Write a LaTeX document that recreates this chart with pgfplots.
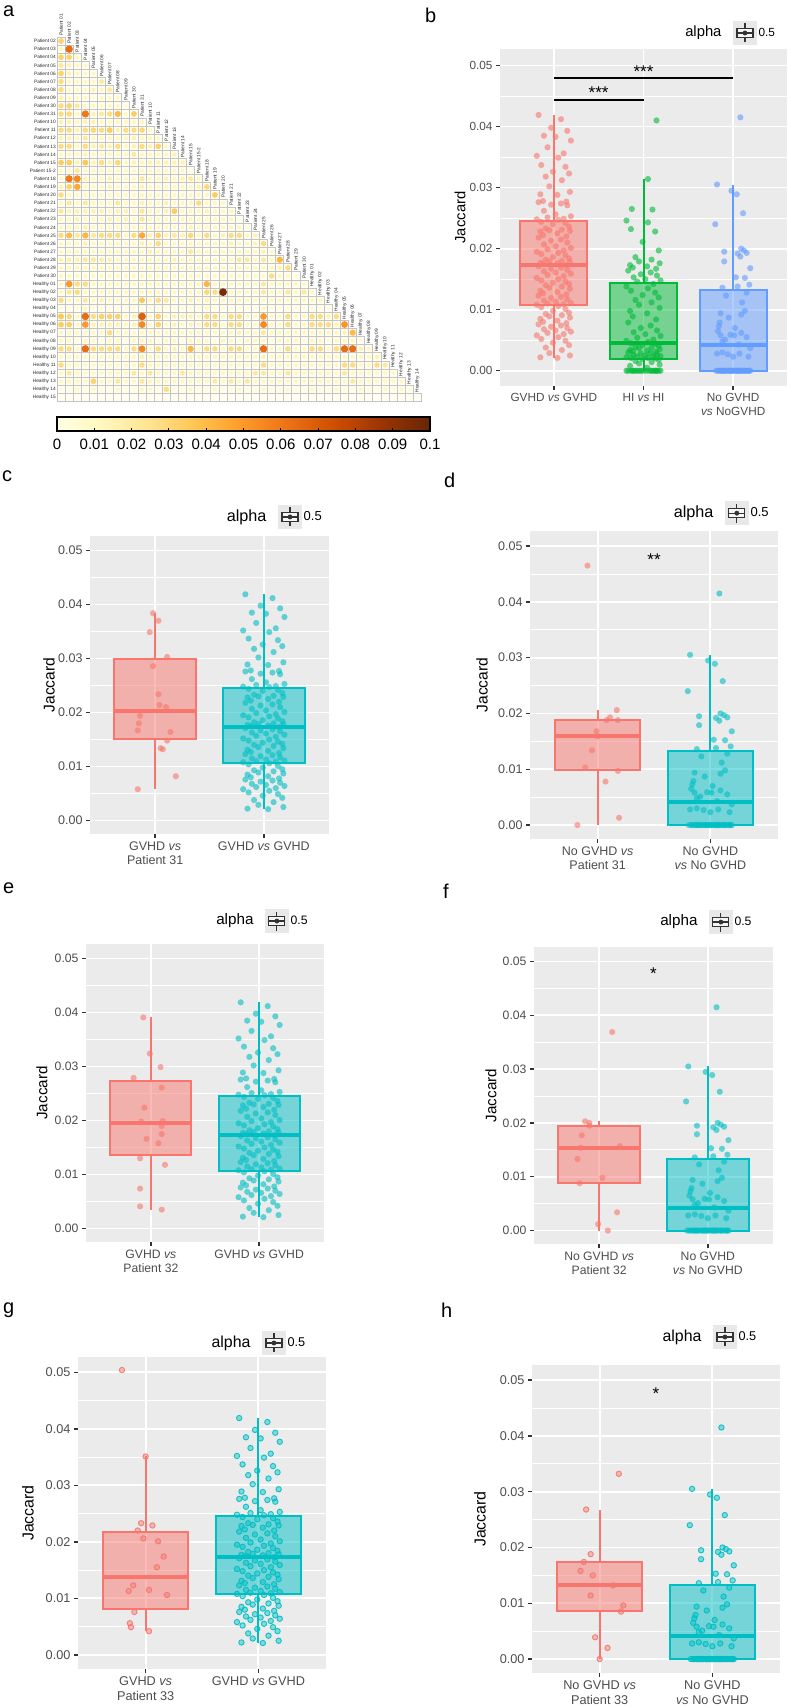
\documentclass[border=0pt]{standalone}
\usepackage{fontspec}
\setmainfont{Liberation Sans}
\usepackage{pgfplots}
\pgfplotsset{compat=1.18}
\usepackage{pgfplotstable}
\usepgfplotslibrary{statistics}
\usetikzlibrary{calc}

\definecolor{ggred}{HTML}{F8766D}
\definecolor{ggteal}{HTML}{00BFC4}
\definecolor{gggreen}{HTML}{00BA38}
\definecolor{ggblue}{HTML}{619CFF}
\definecolor{ggbg}{HTML}{EBEBEB}
\definecolor{tickc}{HTML}{333333}
\definecolor{labc}{HTML}{4D4D4D}
\definecolor{hmbg}{HTML}{FFFEF0}
\definecolor{hmgrid}{HTML}{C4C4C4}
\definecolor{iconbg}{HTML}{E8E8E8}
\definecolor{icondark}{HTML}{333333}

\pgfdeclarehorizontalshading{ylorbrsh}{100bp}{rgb(0bp)=(1,1,0.898); rgb(25bp)=(1,1,0.898); rgb(31.25bp)=(1,0.969,0.737); rgb(37.5bp)=(0.996,0.890,0.569); rgb(43.75bp)=(0.996,0.769,0.310); rgb(50bp)=(0.996,0.6,0.161); rgb(56.25bp)=(0.925,0.439,0.078); rgb(62.5bp)=(0.8,0.298,0.008); rgb(68.75bp)=(0.6,0.204,0.016); rgb(75bp)=(0.4,0.145,0.024); rgb(100bp)=(0.4,0.145,0.024)}

\pgfdeclareplotmark{hmcell}{%
  \pgfpathrectangle{\pgfpoint{-4.05pt}{-4.05pt}}{\pgfpoint{8.1pt}{8.1pt}}%
  \pgfsetfillcolor{hmbg}\pgfsetstrokecolor{hmgrid}\pgfsetlinewidth{0.9pt}%
  \pgfusepath{fill,stroke}%
  \pgfpathcircle{\pgfpointorigin}{\pgfplotmarksize}%
  \pgfsetfillcolor{mapped color}%
  \pgfusepath{fill}%
}

\tikzset{collab/.style={rotate=90, anchor=west, font=\fontsize{4.8}{5}\selectfont, inner sep=0.6pt, text=black!85}}

\pgfplotsset{
  hmstyle/.style={scatter, only marks, mark=hmcell, point meta=explicit,
    scatter/@pre marker code/.append style={/tikz/mark size={ifthenelse(\pgfplotspointmetatransformed<1,0,min(3.9,0.7+0.38*sqrt(\pgfplotspointmetatransformed/10)))}}},
  alphaicon/.style={legend image code/.code={
    \fill[iconbg] (0pt,-11.5pt) rectangle (23pt,11.5pt);
    \draw[draw=icondark, line width=1.2pt] (11.5pt,-9.5pt) -- (11.5pt,-4.5pt) (11.5pt,4.5pt) -- (11.5pt,9.5pt);
    \draw[draw=icondark, fill=white!60!iconbg, line width=1.2pt] (3.5pt,-4.5pt) rectangle (19.5pt,4.5pt);
    \draw[draw=icondark, line width=1.2pt] (3.5pt,0pt) -- (19.5pt,0pt);
    \fill[icondark] (11.5pt,0pt) circle (2.2pt);}},
  ggbox/.style={draw=#1, fill=#1, fill opacity=0.5, line width=2pt, mark=none, forget plot,
    boxplot/draw direction=y,
    boxplot/box extend=0.75, boxplot/whisker extend=0,
    boxplot/every median/.style={line width=4pt}},
  ggpts/.style={only marks, mark=*, mark size=3.1pt, mark options={draw=#1, draw opacity=0, fill=#1, fill opacity=0.6}, forget plot},
  ggpto/.style={only marks, mark=*, mark size=2.7pt, mark options={draw=#1, fill=#1, fill opacity=0.45, draw opacity=0.9, line width=0.9pt}, forget plot},
  ggpanel/.style={
    scale only axis, anchor=north west, clip=false,
    axis background/.style={fill=ggbg},
    axis line style={draw=none},
    boxplot/draw direction=y,
    ymin=-0.0025, ymax=0.0527,
    ytick={0,0.01,0.02,0.03,0.04,0.05},
    minor ytick={0.005,0.015,0.025,0.035,0.045},
    ymajorgrids, yminorgrids, xmajorgrids,
    major grid style={draw=white, line width=1.8pt},
    minor grid style={draw=white, line width=0.9pt},
    tick align=outside, major tick length=4pt, minor tick length=0pt,
    tick pos=left,
    tick style={draw=tickc, line width=1.4pt},
    scaled y ticks=false,
    tick label style={text=labc},
    xticklabel style={align=center},
    yticklabel style={/pgf/number format/.cd, fixed, fixed zerofill, precision=2, assume math mode=true},
    ylabel=Jaccard,
    ylabel style={anchor=center, text=black},
    legend cell align=left,
    legend style={draw=none, fill=none, anchor=west, inner sep=0pt, text=black},
  }
}

\newcommand\hmrow[2]{%
  \gdef\hmcoords{}%
  \foreach \hmv [count=\hmc from 0] in {#2}{\xdef\hmcoords{\hmcoords (\hmc,#1) [\hmv]}}%
  \edef\hmtmp{\noexpand\addplot[hmstyle] coordinates {\hmcoords};}%
  \hmtmp}

% GVHD vs GVHD (136 pairs)
\pgfplotstableread[row sep=\\]{dx y\\
-0.17 0.0419\\ 0.08 0.0412\\ -0.03 0.0398\\ 0.15 0.0393\\ -0.11 0.0385\\ 0.02 0.0383\\ 0.19 0.0377\\ -0.07 0.0366\\
0.11 0.0356\\ -0.19 0.0352\\ 0.05 0.0349\\ -0.14 0.0337\\ 0.13 0.0334\\ -0.01 0.0326\\ 0.17 0.0323\\ -0.09 0.0318\\
0.09 0.0312\\ -0.05 0.0302\\ 0.18 0.0293\\ -0.15 0.0289\\ 0.04 0.0288\\ -0.12 0.0278\\ 0.14 0.0277\\ -0.17 0.0276\\
0.08 0.0274\\ -0.03 0.0272\\ 0.15 0.0271\\ -0.11 0.0262\\ 0.02 0.0256\\ 0.19 0.0253\\ -0.07 0.0251\\ 0.11 0.0249\\
-0.19 0.0248\\ 0.05 0.0247\\ -0.14 0.0244\\ 0.13 0.0242\\ -0.01 0.0240\\ 0.17 0.0236\\ -0.09 0.0233\\ 0.09 0.0231\\
-0.05 0.0230\\ 0.18 0.0229\\ -0.15 0.0228\\ 0.04 0.0225\\ -0.12 0.0222\\ 0.14 0.0220\\ -0.17 0.0218\\ 0.08 0.0215\\
-0.03 0.0213\\ 0.15 0.0210\\ -0.11 0.0207\\ 0.02 0.0204\\ 0.19 0.0201\\ -0.07 0.0199\\ 0.11 0.0197\\ -0.19 0.0195\\
0.05 0.0193\\ -0.14 0.0191\\ 0.13 0.0189\\ -0.01 0.0186\\ 0.17 0.0184\\ -0.09 0.0182\\ 0.09 0.0180\\ -0.05 0.0179\\
0.18 0.0178\\ -0.15 0.0177\\ 0.04 0.0176\\ -0.12 0.0175\\ 0.14 0.0173\\ -0.17 0.0171\\ 0.08 0.0169\\ -0.03 0.0167\\
0.15 0.0165\\ -0.11 0.0163\\ 0.02 0.0161\\ 0.19 0.0159\\ -0.07 0.0157\\ 0.11 0.0155\\ -0.19 0.0152\\ 0.05 0.0150\\
-0.14 0.0148\\ 0.13 0.0146\\ -0.01 0.0144\\ 0.17 0.0142\\ -0.09 0.0140\\ 0.09 0.0138\\ -0.05 0.0136\\ 0.18 0.0134\\
-0.15 0.0131\\ 0.04 0.0129\\ -0.12 0.0127\\ 0.14 0.0125\\ -0.17 0.0123\\ 0.08 0.0121\\ -0.03 0.0119\\ 0.15 0.0117\\
-0.11 0.0115\\ 0.02 0.0113\\ 0.19 0.0111\\ -0.07 0.0110\\ 0.11 0.0109\\ -0.19 0.0108\\ 0.05 0.0106\\ -0.14 0.0104\\
0.13 0.0101\\ -0.01 0.0098\\ 0.17 0.0095\\ -0.09 0.0093\\ 0.09 0.0091\\ -0.05 0.0089\\ 0.18 0.0087\\ -0.15 0.0085\\
0.04 0.0082\\ -0.12 0.0080\\ 0.14 0.0078\\ -0.17 0.0076\\ 0.08 0.0074\\ -0.03 0.0072\\ 0.15 0.0070\\ -0.11 0.0068\\
0.02 0.0066\\ 0.19 0.0064\\ -0.07 0.0062\\ 0.11 0.0060\\ -0.19 0.0058\\ 0.05 0.0055\\ -0.14 0.0052\\ 0.13 0.0049\\
-0.01 0.0046\\ 0.17 0.0042\\ -0.09 0.0038\\ 0.09 0.0034\\ -0.05 0.0029\\ 0.18 0.0025\\ -0.15 0.0022\\ 0.04 0.0021\\
}\tgg

% HI vs HI (105 pairs)
\pgfplotstableread[row sep=\\]{dx y\\
0.145 0.0410\\ 0.05 0.0314\\ -0.13 0.0265\\ 0.10 0.0264\\ -0.19 0.0246\\ 0.05 0.0243\\ -0.14 0.0232\\ 0.13 0.0228\\
-0.01 0.0211\\ 0.17 0.0197\\ -0.09 0.0186\\ 0.09 0.0182\\ -0.05 0.0179\\ 0.18 0.0176\\ -0.15 0.0173\\ 0.04 0.0171\\
-0.12 0.0169\\ 0.14 0.0167\\ -0.17 0.0164\\ 0.08 0.0161\\ -0.03 0.0158\\ 0.15 0.0156\\ -0.11 0.0153\\ 0.02 0.0150\\
0.19 0.0148\\ -0.07 0.0146\\ 0.11 0.0142\\ -0.19 0.0138\\ 0.05 0.0135\\ -0.14 0.0131\\ 0.13 0.0128\\ -0.01 0.0124\\
0.17 0.0120\\ -0.09 0.0116\\ 0.09 0.0112\\ -0.05 0.0108\\ 0.18 0.0103\\ -0.15 0.0098\\ 0.04 0.0094\\ -0.12 0.0089\\
0.14 0.0084\\ -0.17 0.0079\\ 0.08 0.0074\\ -0.03 0.0070\\ 0.15 0.0066\\ -0.11 0.0063\\ 0.02 0.0060\\ 0.19 0.0057\\
-0.07 0.0054\\ 0.11 0.0051\\ -0.19 0.0049\\ 0.05 0.0047\\ -0.14 0.0045\\ 0.13 0.0044\\ -0.01 0.0042\\ 0.17 0.0041\\
-0.09 0.0039\\ 0.09 0.0038\\ -0.05 0.0037\\ 0.18 0.0035\\ -0.15 0.0034\\ 0.04 0.0033\\ -0.12 0.0032\\ 0.14 0.0031\\
-0.17 0.0030\\ 0.08 0.0029\\ -0.03 0.0028\\ 0.15 0.0027\\ -0.11 0.0026\\ 0.02 0.0025\\ 0.19 0.0024\\ -0.07 0.0023\\
0.11 0.0023\\ -0.19 0.0022\\ 0.05 0.0021\\ -0.14 0.0021\\ 0.13 0.0020\\ -0.01 0.0019\\ 0.17 0.0018\\ -0.09 0.0016\\
0.09 0.0014\\ -0.05 0.0012\\ 0.18 0.0010\\ -0.15 0.0008\\ 0.04 0.0005\\ -0.12 0\\ 0.14 0\\ -0.17 0\\
0.08 0\\ -0.03 0\\ 0.15 0\\ -0.11 0\\ 0.02 0\\ 0.19 0\\ -0.07 0\\ 0.11 0\\
-0.19 0\\ 0.05 0\\ -0.14 0\\ 0.13 0\\ -0.01 0\\ 0.17 0\\ -0.09 0\\ 0.09 0\\ -0.05 0\\
}\thh

% No GVHD vs No GVHD (78 pairs)
\pgfplotstableread[row sep=\\]{dx y\\
-0.18 0.0305\\ -0.02 0.0295\\ 0.04 0.0289\\ 0.11 0.0258\\ -0.20 0.0240\\ -0.10 0.0195\\ 0.05 0.0192\\ 0.09 0.0200\\
0.12 0.0197\\ 0.15 0.0193\\ 0.08 0.0187\\ -0.10 0.0179\\ 0.19 0.0168\\ 0.03 0.0153\\ 0.13 0.0152\\ -0.12 0.0136\\
0.05 0.0138\\ 0.18 0.0141\\ -0.08 0.0123\\ 0.15 0.0128\\ -0.14 0.0094\\ 0.09 0.0092\\ 0.13 0.0098\\ -0.15 0.0079\\
-0.16 0.0073\\ -0.17 0.0065\\ -0.14 0.0058\\ -0.03 0.0059\\ 0.01 0.0058\\ 0.09 0.0062\\ 0.15 0.0055\\ -0.12 0.0048\\
0.06 0.0043\\ 0.19 0.0037\\ -0.18 0.0028\\ -0.12 0.0030\\ -0.06 0.0027\\ 0.00 0.0023\\ 0.07 0.0028\\ 0.17 0.0023\\
0.10 0.0112\\ -0.05 0.0087\\ 0.02 0.0070\\ -0.09 0.0051\\ 0.08 0.0415\\
-0.19 0\\ -0.17 0\\ -0.16 0\\ -0.14 0\\ -0.13 0\\ -0.12 0\\ -0.10 0\\ -0.09 0\\ -0.08 0\\ -0.06 0\\ -0.05 0\\
-0.04 0\\ -0.02 0\\ -0.01 0\\ 0.00 0\\ 0.01 0\\ 0.03 0\\ 0.04 0\\ 0.05 0\\ 0.07 0\\ 0.08 0\\ 0.09 0\\
0.11 0\\ 0.12 0\\ 0.13 0\\ 0.14 0\\ 0.16 0\\ 0.17 0\\ 0.18 0\\ 0.19 0\\ -0.11 0\\ 0.06 0\\ -0.03 0\\
}\tnn

\pgfplotstableread[row sep=\\]{dx y\\
-0.02 0.0384\\ 0.03 0.0370\\ -0.05 0.0349\\ 0.11 0.0303\\ -0.02 0.0286\\ 0.03 0.0234\\ 0.04 0.0214\\ 0.10 0.0210\\
-0.14 0.0194\\ -0.15 0.0180\\ -0.16 0.0167\\ 0.14 0.0164\\ 0.11 0.0148\\ 0.05 0.0134\\ 0.07 0.0132\\ 0.19 0.0082\\ -0.16 0.0058\\
}\tpc
\pgfplotstableread[row sep=\\]{dx y\\
-0.09 0.0465\\ 0.17 0.0206\\ 0.11 0.0193\\ 0.08 0.0188\\ 0.18 0.0188\\ -0.01 0.0168\\ 0.00 0.0159\\
-0.05 0.0134\\ -0.11 0.0103\\ 0.18 0.0097\\ 0.07 0.0078\\ 0.19 0.0013\\ -0.18 0.0000\\
}\tpd
\pgfplotstableread[row sep=\\]{dx y\\
-0.07 0.0391\\ -0.01 0.0324\\ 0.09 0.0299\\ -0.16 0.0279\\ 0.10 0.0261\\ -0.06 0.0224\\ -0.09 0.0198\\ 0.11 0.0199\\
0.10 0.0190\\ 0.10 0.0175\\ -0.04 0.0166\\ 0.07 0.0158\\ -0.10 0.0130\\ 0.13 0.0118\\ -0.10 0.0074\\ -0.10 0.0041\\ 0.10 0.0035\\
}\tpe
\pgfplotstableread[row sep=\\]{dx y\\
0.12 0.0369\\ -0.13 0.0203\\ -0.09 0.0200\\ -0.09 0.0195\\ -0.16 0.0177\\ -0.17 0.0154\\ 0.19 0.0157\\
-0.20 0.0133\\ 0.03 0.0098\\ -0.18 0.0088\\ 0.165 0.0034\\ -0.01 0.0012\\ 0.08 0.0000\\
}\tpf
\pgfplotstableread[row sep=\\]{dx y\\
-0.21 0.0504\\ 0.00 0.0351\\ -0.04 0.0233\\ 0.06 0.0229\\ -0.07 0.0220\\ -0.02 0.0206\\ 0.11 0.0201\\ 0.16 0.0174\\
0.10 0.0155\\ -0.11 0.0123\\ -0.15 0.0113\\ 0.03 0.0115\\ 0.19 0.0106\\ -0.10 0.0076\\ -0.14 0.0056\\ -0.13 0.0049\\ 0.03 0.0042\\
}\tpg
\pgfplotstableread[row sep=\\]{dx y\\
0.17 0.0332\\ -0.12 0.0268\\ -0.08 0.0188\\ -0.14 0.0174\\ -0.17 0.0158\\ -0.06 0.0150\\ 0.12 0.0132\\
-0.08 0.0114\\ 0.21 0.0096\\ 0.19 0.0085\\ -0.04 0.0039\\ 0.07 0.0020\\ 0.00 0.0000\\
}\tph

\begin{document}
\begin{tikzpicture}
\useasboundingbox (0pt,0pt) rectangle (788pt,-1708pt);

% ---------------- panel a: heatmap (values in units of 0.001) ----------------
\begin{axis}[
  at={(57pt,-37pt)}, anchor=north west,
  width=364.5pt, height=364.5pt, scale only axis,
  xmin=-0.5, xmax=44.5, ymin=-0.5, ymax=44.5, y dir=reverse,
  axis line style={draw=none}, clip=false,
  xtick=\empty, ytick={0,...,44}, major tick length=0pt,
  yticklabels={Patient 02,Patient 03,Patient 04,Patient 05,Patient 06,Patient 07,Patient 08,Patient 09,Patient 30,Patient 31,Patient 10,Patient 11,Patient 12,Patient 13,Patient 14,Patient 15,Patient 15-2,Patient 18,Patient 19,Patient 20,Patient 21,Patient 22,Patient 23,Patient 24,Patient 25,Patient 26,Patient 27,Patient 28,Patient 29,Patient 30,Healthy 01,Healthy 02,Healthy 03,Healthy 04,Healthy 05,Healthy 06,Healthy 07,Healthy 08,Healthy 09,Healthy 10,Healthy 11,Healthy 12,Healthy 13,Healthy 14,Healthy 15},
  yticklabel style={font=\fontsize{4.8}{5}\selectfont, inner sep=1pt, text=black!85},
  point meta min=0, point meta max=100,
  colormap={ylorbr}{rgb255(0)=(255,255,229) rgb255(1)=(255,247,188) rgb255(2)=(254,227,145) rgb255(3)=(254,196,79) rgb255(4)=(254,153,41) rgb255(5)=(236,112,20) rgb255(6)=(204,76,2) rgb255(7)=(153,52,4) rgb255(8)=(102,37,6)},
]
\hmrow{0}{32}
\hmrow{1}{12,64}
\hmrow{2}{32,32,12}
\hmrow{3}{22,16,12,12}
\hmrow{4}{32,16,12,12,12}
\hmrow{5}{28,12,12,12,12,22}
\hmrow{6}{28,12,12,12,16,12,22}
\hmrow{7}{16,12,12,12,7,12,12,12}
\hmrow{8}{28,32,22,12,12,12,12,12,7}
\hmrow{9}{28,30,12,60,16,22,28,40,12,34}
\hmrow{10}{16,16,12,16,16,12,12,12,12,12,12}
\hmrow{11}{28,28,16,28,30,28,34,16,28,28,30,12}
\hmrow{12}{16,16,12,22,12,12,12,12,12,16,12,12,12}
\hmrow{13}{28,28,12,28,16,22,16,28,12,16,28,16,32,12}
\hmrow{14}{12,12,12,16,12,12,12,12,12,22,12,12,12,12,16}
\hmrow{15}{34,34,16,36,16,28,16,30,12,16,12,16,16,16,16,16}
\hmrow{16}{12,12,22,12,12,12,12,12,12,12,12,12,12,12,12,12,7}
\hmrow{17}{12,60,55,16,12,12,16,12,12,12,22,12,12,16,12,16,22,12}
\hmrow{18}{16,32,46,12,12,12,16,12,12,12,16,12,12,12,12,12,12,16,30}
\hmrow{19}{28,12,12,12,12,12,12,12,12,12,12,12,12,12,12,12,12,12,12,34}
\hmrow{20}{12,22,12,22,12,12,12,22,12,12,16,12,12,16,12,12,12,28,12,12,12}
\hmrow{21}{22,16,16,16,16,16,12,16,16,12,22,12,12,16,34,12,12,12,16,12,12,12}
\hmrow{22}{12,12,16,12,12,12,16,12,16,12,22,12,12,12,12,12,12,12,12,12,12,12,7}
\hmrow{23}{12,12,12,16,12,12,12,12,12,12,12,12,12,12,12,12,16,12,12,12,12,12,12,7}
\hmrow{24}{28,40,22,42,22,28,28,28,12,28,46,16,32,16,22,16,30,12,28,12,16,28,28,12,16}
\hmrow{25}{12,12,12,16,12,12,12,12,12,12,16,12,28,12,12,12,12,12,12,12,12,16,12,12,16,28}
\hmrow{26}{12,12,12,12,12,12,12,12,12,12,12,16,12,12,12,12,22,12,12,12,12,12,12,12,12,16,12}
\hmrow{27}{16,18,16,22,22,18,16,12,12,12,12,12,12,12,16,12,12,12,12,12,12,12,22,22,12,22,12,42}
\hmrow{28}{12,12,12,12,12,12,12,12,12,12,12,12,12,12,12,12,12,12,12,12,12,12,12,12,12,12,12,16,28}
\hmrow{29}{12,12,12,12,12,12,12,12,12,12,12,12,12,12,12,12,12,12,12,12,12,12,12,12,12,12,28,12,12,7}
\hmrow{30}{12,50,28,28,12,12,12,12,12,12,12,12,12,12,12,12,12,12,42,12,12,12,12,12,12,22,12,12,12,12,12}
\hmrow{31}{12,22,28,12,12,12,12,12,12,12,12,12,12,12,12,12,12,12,30,28,95,12,12,12,12,22,12,12,22,12,22,12}
\hmrow{32}{28,12,12,22,12,16,12,12,12,12,36,12,28,22,12,12,16,12,16,12,12,12,12,12,12,12,12,12,12,12,12,12,12}
\hmrow{33}{7,7,7,12,7,7,7,7,7,7,7,7,7,7,7,7,7,7,12,7,7,7,7,7,7,12,7,7,7,7,7,7,7,7}
\hmrow{34}{36,30,12,64,28,32,32,32,12,16,68,12,32,12,16,16,16,12,28,28,12,28,28,12,12,50,12,12,28,12,12,28,28,16,28}
\hmrow{35}{34,34,12,50,16,16,16,16,12,16,55,12,32,12,16,12,16,12,28,28,12,28,28,12,12,55,12,12,28,12,12,28,28,28,16,52}
\hmrow{36}{12,12,12,12,12,12,28,12,12,12,12,12,12,12,12,12,12,12,12,12,12,12,16,12,12,22,12,12,12,12,12,12,12,12,12,16,40}
\hmrow{37}{12,12,7,12,12,7,12,12,7,12,12,12,7,12,12,7,12,12,12,7,12,12,7,12,12,12,7,12,12,12,7,12,12,7,12,12,12,7}
\hmrow{38}{28,28,12,64,28,28,28,28,12,28,55,12,28,12,16,12,42,12,28,28,12,28,28,12,12,64,12,12,28,12,12,28,28,12,28,64,64,16,12}
\hmrow{39}{12,12,12,12,12,12,12,12,12,12,16,12,12,12,12,12,12,12,12,12,12,12,12,12,12,16,12,12,12,12,12,12,12,12,12,12,12,12,12,16}
\hmrow{40}{28,12,12,12,12,12,12,12,12,12,28,12,12,12,12,12,12,12,12,12,12,12,12,12,12,28,12,12,12,12,12,12,12,12,12,28,28,12,12,28,22}
\hmrow{41}{12,22,12,12,12,12,12,12,12,22,12,22,12,12,12,22,12,12,12,12,12,12,12,12,22,22,12,12,22,12,12,12,12,12,12,22,12,12,12,12,12,12}
\hmrow{42}{12,12,12,12,32,12,12,22,12,12,22,12,12,12,12,12,12,12,12,22,12,22,12,22,12,12,12,12,12,12,12,12,12,12,12,12,22,12,12,12,12,12,12}
\hmrow{43}{7,7,12,7,12,7,7,12,7,7,12,12,7,28,7,7,12,7,7,12,7,7,12,7,7,12,7,7,12,7,7,12,7,7,12,7,7,12,7,7,12,7,12,7}
\hmrow{44}{0,0,0,0,0,0,0,0,0,0,0,0,0,0,0,0,0,0,0,0,0,0,0,0,0,0,0,0,0,0,0,0,0,0,0,0,0,0,0,0,0,0,0,0,0}
\foreach \j/\lab in {0/Patient 01,1/Patient 02,2/Patient 03,3/Patient 04,4/Patient 05,5/Patient 06,6/Patient 07,7/Patient 08,8/Patient 09,9/Patient 30,10/Patient 31,11/Patient 10,12/Patient 11,13/Patient 12,14/Patient 13,15/Patient 14,16/Patient 15,17/Patient 15-2,18/Patient 18,19/Patient 19,20/Patient 20,21/Patient 21,22/Patient 22,23/Patient 23,24/Patient 24,25/Patient 25,26/Patient 26,27/Patient 27,28/Patient 28,29/Patient 29,30/Patient 30,31/Healthy 01,32/Healthy 02,33/Healthy 03,34/Healthy 04,35/Healthy 05,36/Healthy 06,37/Healthy 07,38/Healthy 08,39/Healthy 09,40/Healthy 10,41/Healthy 11,42/Healthy 12,43/Healthy 13,44/Healthy 14}{%
  \pgfmathsetmacro\yy{\j-0.55}%
  \edef\tmp{\noexpand\node[collab] at (axis cs:\j,\yy) {\lab};}\tmp}
\draw[red, line width=2.4pt] (axis cs:-0.5,16.5) -- (axis cs:16.4,16.5);
\draw[red, line width=2.4pt] (axis cs:17.5,17.5) -- (axis cs:17.5,29.5) -- (axis cs:29.5,29.5);
\draw[red, line width=2.4pt] (axis cs:30.5,30.7) -- (axis cs:30.5,44.2);
\end{axis}

% colour bar of panel a
\begin{axis}[at={(57pt,-417pt)}, anchor=north west, width=373pt, height=14pt, scale only axis,
  xmin=0, xmax=0.1, ymin=0, ymax=1, ytick=\empty,
  xtick={0,0.01,0.02,0.03,0.04,0.05,0.06,0.07,0.08,0.09,0.1},
  xticklabels={0,0.01,0.02,0.03,0.04,0.05,0.06,0.07,0.08,0.09,0.1},
  xticklabel style={font=\fontsize{15}{17}\selectfont, text=black, yshift=-4pt},
  xtick pos=left, tick align=inside, major tick length=3.5pt,
  tick style={draw=black, line width=0.9pt},
  axis line style={draw=black, line width=1.3pt}, axis on top]
\shade[shading=ylorbrsh] (rel axis cs:0,0) rectangle (rel axis cs:1,1);
\end{axis}

% ---------------- panel b ----------------
\begin{axis}[ggpanel, at={(500pt,-49pt)}, width=287pt, height=337pt,
  xmin=0.4, xmax=3.6, xtick={1,2,3},
  xticklabels={{GVHD \textit{vs} GVHD},{HI \textit{vs} HI},{No GVHD\\\textit{vs} NoGVHD}},
  tick label style={font=\fontsize{11.8}{14}\selectfont},
  ylabel style={font=\fontsize{14.8}{16}\selectfont, at={(axis description cs:-0.139,0.5)}},
  legend style={at={(axis description cs:0.812,1.0475)}, font=\fontsize{11.8}{14}\selectfont}]
\addlegendimage{alphaicon}\addlegendentry{0.5}
\addplot[ggbox=ggred, boxplot prepared={lower whisker=0.0021, lower quartile=0.0107, median=0.0174, upper quartile=0.0246, upper whisker=0.0419, draw position=1}] coordinates {};
\addplot[ggbox=gggreen, boxplot prepared={lower whisker=0, lower quartile=0.0019, median=0.0046, upper quartile=0.0144, upper whisker=0.0314, draw position=2}] coordinates {};
\addplot[ggbox=ggblue, boxplot prepared={lower whisker=0, lower quartile=0, median=0.0042, upper quartile=0.0133, upper whisker=0.0305, draw position=3}] coordinates {};
\addplot[ggpts=ggred] table[x expr=\thisrow{dx}+1, y=y] {\tgg};
\addplot[ggpts=gggreen] table[x expr=\thisrow{dx}+2, y=y] {\thh};
\addplot[ggpts=ggblue] table[x expr=\thisrow{dx}+3, y=y] {\tnn};
\addplot[black, line width=1.8pt, forget plot] coordinates {(1,0.0479) (3,0.0479)};
\addplot[black, line width=1.8pt, forget plot] coordinates {(1,0.0444) (2,0.0444)};
\node[anchor=base, font=\fontsize{17}{17}\selectfont] at (axis cs:2,0.0481) {***};
\node[anchor=base, font=\fontsize{17}{17}\selectfont] at (axis cs:1.5,0.0446) {***};
\end{axis}

% ---------------- panel c ----------------
\begin{axis}[ggpanel, at={(90pt,-536pt)}, width=239pt, height=298pt,
  xmin=0.4, xmax=2.6, xtick={1,2},
  xticklabels={{GVHD \textit{vs}\\Patient 31},{GVHD \textit{vs} GVHD}},
  tick label style={font=\fontsize{12.5}{14.5}\selectfont},
  ylabel style={font=\fontsize{15.6}{17}\selectfont, at={(axis description cs:-0.1715,0.5)}},
  legend style={at={(axis description cs:0.787,1.064)}, font=\fontsize{13}{14}\selectfont}]
\addlegendimage{alphaicon}\addlegendentry{0.5}
\addplot[ggbox=ggred, boxplot prepared={lower whisker=0.0058, lower quartile=0.0151, median=0.0202, upper quartile=0.0299, upper whisker=0.0384, draw position=1}] coordinates {};
\addplot[ggbox=ggteal, boxplot prepared={lower whisker=0.0021, lower quartile=0.0107, median=0.0174, upper quartile=0.0246, upper whisker=0.0419, draw position=2}] coordinates {};
\addplot[ggpts=ggred] table[x expr=\thisrow{dx}+1, y=y] {\tpc};
\addplot[ggpts=ggteal] table[x expr=\thisrow{dx}+2, y=y] {\tgg};
\end{axis}

% ---------------- panel d ----------------
\begin{axis}[ggpanel, at={(530pt,-531pt)}, width=248pt, height=308pt,
  xmin=0.4, xmax=2.6, xtick={1,2},
  xticklabels={{No GVHD \textit{vs}\\Patient 31},{No GVHD\\\textit{vs} No GVHD}},
  tick label style={font=\fontsize{12.5}{14.5}\selectfont},
  ylabel style={font=\fontsize{15.6}{17}\selectfont, at={(axis description cs:-0.1935,0.5)}},
  legend style={at={(axis description cs:0.786,1.058)}, font=\fontsize{13}{14}\selectfont}]
\addlegendimage{alphaicon}\addlegendentry{0.5}
\addplot[ggbox=ggred, boxplot prepared={lower whisker=0, lower quartile=0.0098, median=0.0160, upper quartile=0.0188, upper whisker=0.0206, draw position=1}] coordinates {};
\addplot[ggbox=ggteal, boxplot prepared={lower whisker=0, lower quartile=0, median=0.0042, upper quartile=0.0133, upper whisker=0.0305, draw position=2}] coordinates {};
\addplot[ggpts=ggred] table[x expr=\thisrow{dx}+1, y=y] {\tpd};
\addplot[ggpts=ggteal] table[x expr=\thisrow{dx}+2, y=y] {\tnn};
\node[anchor=base, font=\fontsize{17}{17}\selectfont] at (axis cs:1.5,0.0466) {**};
\end{axis}

% ---------------- panel e ----------------
\begin{axis}[ggpanel, at={(86pt,-944pt)}, width=238pt, height=298pt,
  xmin=0.4, xmax=2.6, xtick={1,2},
  xticklabels={{GVHD \textit{vs}\\Patient 32},{GVHD \textit{vs} GVHD}},
  tick label style={font=\fontsize{12.2}{14.2}\selectfont},
  ylabel style={font=\fontsize{15.2}{17}\selectfont, at={(axis description cs:-0.185,0.5)}},
  legend style={at={(axis description cs:0.752,1.077)}, font=\fontsize{12.2}{14}\selectfont}]
\addlegendimage{alphaicon}\addlegendentry{0.5}
\addplot[ggbox=ggred, boxplot prepared={lower whisker=0.0035, lower quartile=0.0136, median=0.0195, upper quartile=0.0274, upper whisker=0.0391, draw position=1}] coordinates {};
\addplot[ggbox=ggteal, boxplot prepared={lower whisker=0.0021, lower quartile=0.0107, median=0.0174, upper quartile=0.0246, upper whisker=0.0419, draw position=2}] coordinates {};
\addplot[ggpts=ggred] table[x expr=\thisrow{dx}+1, y=y] {\tpe};
\addplot[ggpts=ggteal] table[x expr=\thisrow{dx}+2, y=y] {\tgg};
\end{axis}

% ---------------- panel f ----------------
\begin{axis}[ggpanel, at={(534pt,-947pt)}, width=239pt, height=297pt,
  xmin=0.4, xmax=2.6, xtick={1,2},
  xticklabels={{No GVHD \textit{vs}\\Patient 32},{No GVHD\\\textit{vs} No GVHD}},
  tick label style={font=\fontsize{12.2}{14.2}\selectfont},
  ylabel style={font=\fontsize{15.2}{17}\selectfont, at={(axis description cs:-0.18,0.5)}},
  legend style={at={(axis description cs:0.732,1.084)}, font=\fontsize{12.2}{14}\selectfont}]
\addlegendimage{alphaicon}\addlegendentry{0.5}
\addplot[ggbox=ggred, boxplot prepared={lower whisker=0, lower quartile=0.0088, median=0.0154, upper quartile=0.0194, upper whisker=0.0203, draw position=1}] coordinates {};
\addplot[ggbox=ggteal, boxplot prepared={lower whisker=0, lower quartile=0, median=0.0042, upper quartile=0.0133, upper whisker=0.0305, draw position=2}] coordinates {};
\addplot[ggpts=ggred] table[x expr=\thisrow{dx}+1, y=y] {\tpf};
\addplot[ggpts=ggteal] table[x expr=\thisrow{dx}+2, y=y] {\tnn};
\node[anchor=base, font=\fontsize{17}{17}\selectfont] at (axis cs:1.5,0.0466) {*};
\end{axis}

% ---------------- panel g ----------------
\begin{axis}[ggpanel, at={(78pt,-1357pt)}, width=248pt, height=312pt,
  xmin=0.4, xmax=2.6, xtick={1,2},
  xticklabels={{GVHD \textit{vs}\\Patient 33},{GVHD \textit{vs} GVHD}},
  tick label style={font=\fontsize{12.7}{14.7}\selectfont},
  ylabel style={font=\fontsize{15.9}{17}\selectfont, at={(axis description cs:-0.2016,0.5)}},
  legend style={at={(axis description cs:0.742,1.045)}, font=\fontsize{12.7}{14}\selectfont}]
\addlegendimage{alphaicon}\addlegendentry{0.5}
\addplot[ggbox=ggred, boxplot prepared={lower whisker=0.0042, lower quartile=0.0082, median=0.0138, upper quartile=0.0217, upper whisker=0.0351, draw position=1}] coordinates {};
\addplot[ggbox=ggteal, boxplot prepared={lower whisker=0.0021, lower quartile=0.0107, median=0.0174, upper quartile=0.0246, upper whisker=0.0419, draw position=2}] coordinates {};
\addplot[ggpto=ggred] table[x expr=\thisrow{dx}+1, y=y] {\tpg};
\addplot[ggpto=ggteal] table[x expr=\thisrow{dx}+2, y=y] {\tgg};
\end{axis}

% ---------------- panel h ----------------
\begin{axis}[ggpanel, at={(532pt,-1365pt)}, width=248pt, height=308pt,
  xmin=0.4, xmax=2.6, xtick={1,2},
  xticklabels={{No GVHD \textit{vs}\\Patient 33},{No GVHD\\\textit{vs} No GVHD}},
  tick label style={font=\fontsize{12.7}{14.7}\selectfont},
  ylabel style={font=\fontsize{15.9}{17}\selectfont, at={(axis description cs:-0.2097,0.5)}},
  legend style={at={(axis description cs:0.730,1.091)}, font=\fontsize{12.7}{14}\selectfont}]
\addlegendimage{alphaicon}\addlegendentry{0.5}
\addplot[ggbox=ggred, boxplot prepared={lower whisker=0, lower quartile=0.0086, median=0.0133, upper quartile=0.0174, upper whisker=0.0267, draw position=1}] coordinates {};
\addplot[ggbox=ggteal, boxplot prepared={lower whisker=0, lower quartile=0, median=0.0042, upper quartile=0.0133, upper whisker=0.0305, draw position=2}] coordinates {};
\addplot[ggpto=ggred] table[x expr=\thisrow{dx}+1, y=y] {\tph};
\addplot[ggpto=ggteal] table[x expr=\thisrow{dx}+2, y=y] {\tnn};
\node[anchor=base, font=\fontsize{17}{17}\selectfont] at (axis cs:1.5,0.0466) {*};
\end{axis}

% legend titles
\node[anchor=east, font=\fontsize{14.8}{16}\selectfont] at (725pt,-33pt) {alpha};
\node[anchor=east, font=\fontsize{16.2}{17}\selectfont] at (270pt,-517pt) {alpha};
\node[anchor=east, font=\fontsize{16.2}{17}\selectfont] at (717pt,-513pt) {alpha};
\node[anchor=east, font=\fontsize{15.2}{17}\selectfont] at (257pt,-921pt) {alpha};
\node[anchor=east, font=\fontsize{15.2}{17}\selectfont] at (701pt,-922pt) {alpha};
\node[anchor=east, font=\fontsize{15.9}{17}\selectfont] at (254pt,-1343pt) {alpha};
\node[anchor=east, font=\fontsize{15.9}{17}\selectfont] at (705pt,-1337pt) {alpha};

% panel letters
\begin{scope}[every node/.style={anchor=base west, inner sep=0pt, font=\fontsize{20}{24}\selectfont}]
\node at (3pt,-16pt) {a};
\node at (425pt,-22pt) {b};
\node at (2pt,-481pt) {c};
\node at (444pt,-487pt) {d};
\node at (3pt,-893pt) {e};
\node at (443pt,-898pt) {f};
\node at (3pt,-1313pt) {g};
\node at (441pt,-1317pt) {h};
\end{scope}
\end{tikzpicture}
\end{document}
